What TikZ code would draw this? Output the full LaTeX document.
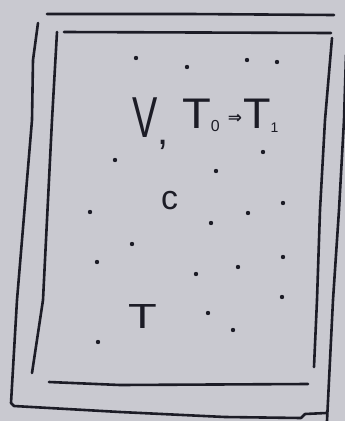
\documentclass[tikz,border=0pt]{standalone}
\usepackage{fontspec}
\setmainfont{Liberation Sans}
\newfontfamily\arrowfont{DejaVu Sans}
\definecolor{paper}{RGB}{201,201,208}
\definecolor{ink}{RGB}{28,28,38}
\begin{document}
\begin{tikzpicture}[x=1bp,y=-1bp,
  stroke/.style={draw=ink, line width=2.6bp, line cap=round, line join=round},
  dotmark/.style={circle, fill=ink, inner sep=0pt, minimum size=4.4bp},
  txt/.style={text=ink, inner sep=0pt, anchor=base west}]
\fill[paper] (0,0) rectangle (345,421);
\useasboundingbox (0,0) rectangle (345,421);

% frame lines
\draw[stroke] (47,14) -- (190,14) -- (334,15);
\draw[stroke] (64,32) -- (200,32.5) -- (331,33);
\draw[stroke] (38,23) -- (33,60) -- (32,120) -- (17,300) -- (11,403) -- (14,406)
  -- (120,412) -- (225,417) -- (301,418) -- (305,414) -- (326,413);
\draw[stroke] (57,32) -- (52,120) -- (43,300) -- (32,373);
\draw[stroke] (49,382) -- (120,385) -- (308,384);
\draw[stroke] (332,38) -- (325,120) -- (320,210) -- (317,300) -- (314,367);
\draw[stroke] (346,55) -- (344,120) -- (339,210) -- (333,300) -- (327,421);

% dots
\foreach \p [count=\i] in {(136,58),(187,67),(247,60),(277,62),(115,160),(263,152),
  (216,171),(90,212),(283,203),(248,213),(211,223),(132,244),(97,262),(283,257),
  (238,267),(196,274),(282,297),(208,313),(233,330),(98,342)}
  \node[dotmark] (d\i) at \p {};

% texts
\node[txt] (v) at (132,137) {\fontsize{40}{40}\selectfont\scalebox{0.95}[1.45]{V}\raisebox{-7bp}{,}};
\node[txt] (tt) at (182,128) {\fontsize{43}{43}\selectfont \scalebox{1.1}[1]{T}\raisebox{-3bp}{\fontsize{16}{16}\selectfont 0}\hspace{8bp}\raisebox{5bp}{\fontsize{17}{17}\arrowfont\bfseries ⇒}\hspace{1bp}\scalebox{1.05}[1]{T}\raisebox{-4bp}{\fontsize{14}{14}\selectfont 1}};
\node[txt] (c) at (161,209) {\fontsize{34}{34}\selectfont c};
\node[txt] (t) at (128,328) {\fontsize{35}{35}\selectfont\scalebox{1.35}[1]{T}};
\end{tikzpicture}
\end{document}
